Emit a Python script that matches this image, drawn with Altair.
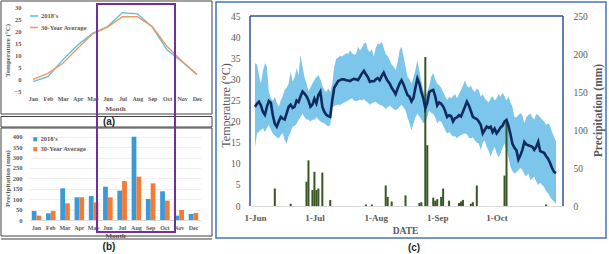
import altair as alt
import pandas as pd

SERIF = "Liberation Serif"
SANS = "Liberation Sans"
GREY = "#595959"

# ---------------- panel (a) / (b) data ----------------
months = ["Jan", "Feb", "Mar", "Apr", "May", "Jun", "Jul", "Aug", "Sep", "Oct", "Nov", "Dec"]
series = ["2018's", "30-Year Average"]
temp_2018 = [-0.8, 1.2, 8.2, 14.4, 19.2, 22.0, 27.8, 27.3, 21.8, 12.3, 7.4, 2.0]
temp_30yr = [0.1, 2.6, 6.8, 13.0, 19.0, 21.8, 26.1, 26.1, 22.0, 13.7, 7.6, 2.2]
prec_2018 = [43, 32, 152, 109, 115, 160, 141, 400, 101, 138, 21, 29]
prec_30yr = [21, 43, 80, 109, 85, 109, 187, 208, 176, 93, 48, 34]
temp_ticks_a = [-5, 0, 5, 10, 15, 20, 25, 30]
prec_ticks_b = [0, 50, 100, 150, 200, 250, 300, 350, 400]

# ---------------- panel (c) data ----------------
start_date = "2018-06-01"
tmean = [23.5, 24.2, 24.7, 23.8, 22.3, 21.6, 23.5, 24.9, 24.5, 21.5,
         19.5, 18.8, 20.0, 21.1, 20.7, 20.5, 22.0, 23.5, 24.0, 23.2,
         23.5, 25.0, 24.6, 26.0, 27.1, 26.6, 26.0, 25.0, 23.5, 24.0,
         25.4, 24.3, 26.3, 27.1, 23.5, 22.3, 21.6, 21.3, 21.1, 25.0,
         28.0, 28.8, 29.6, 29.8, 30.0, 30.0, 29.8, 29.7, 29.6, 29.9,
         30.1, 30.0, 29.8, 30.6, 31.4, 32.0, 31.2, 30.5, 29.4, 29.6,
         29.5, 30.0, 30.3, 29.8, 30.8, 31.6, 30.5, 29.6, 29.0, 28.0,
         27.3, 26.5, 27.8, 29.0, 29.8, 28.8, 27.5, 26.3, 25.9, 24.8,
         25.6, 28.0, 30.2, 29.0, 27.0, 25.5, 23.1, 24.5, 27.0, 27.3,
         27.5, 26.0, 23.8, 24.5, 24.2, 23.6, 22.5, 21.1, 21.5, 21.3,
         20.0, 20.8, 21.0, 21.5, 21.2, 22.3, 23.5, 24.7, 23.8, 22.5,
         21.1, 20.8, 20.6, 20.0, 19.2, 17.2, 18.0, 18.8, 18.5, 18.8,
         17.5, 18.3, 17.2, 17.8, 18.6, 19.0, 20.0, 20.4, 19.0, 17.0,
         14.7, 13.8, 13.2, 11.0, 12.0, 13.3, 15.2, 14.6, 14.4, 14.2,
         14.0, 13.3, 14.0, 15.2, 13.0, 12.8, 12.6, 11.8, 11.2, 10.2,
         9.0, 8.1, 7.8]
tmax = [33.8, 33.5, 31.0, 29.0, 32.0, 33.8, 33.0, 27.0, 25.5, 24.9,
        25.8, 24.5, 23.5, 25.0, 26.0, 27.5, 28.0, 29.0, 31.8, 29.5,
        30.5, 32.6, 31.0, 35.8, 33.0, 30.5, 29.0, 27.1, 28.0, 29.0,
        29.9, 30.5, 31.0, 30.0, 28.5, 27.5, 27.0, 27.8, 27.0, 29.0,
        33.0, 34.9, 35.2, 35.6, 35.4, 35.8, 36.2, 36.0, 36.9, 36.2,
        35.8, 36.0, 37.7, 36.8, 37.5, 38.5, 38.7, 37.0, 36.5, 37.2,
        35.4, 37.5, 38.5, 38.3, 38.9, 37.5, 36.0, 35.5, 34.6, 33.5,
        33.0, 32.2, 34.0, 36.9, 37.7, 35.5, 33.0, 30.6, 30.0, 29.0,
        30.5, 32.2, 34.6, 32.0, 29.5, 27.5, 25.9, 27.0, 28.5, 30.6,
        31.5, 30.0, 29.0, 28.6, 28.0, 27.0, 26.0, 25.1, 25.8, 25.5,
        26.0, 26.5, 25.5, 26.5, 27.5, 28.5, 29.8, 28.5, 28.0, 28.5,
        27.5, 27.0, 27.8, 27.5, 25.9, 26.5, 25.5, 25.0, 24.5, 25.5,
        26.0, 25.0, 25.5, 26.5, 25.9, 26.8, 26.0, 25.0, 26.0, 24.5,
        23.5, 21.1, 21.0, 21.5, 22.0, 21.5, 19.6, 21.0, 21.5, 21.9,
        21.0, 20.5, 21.8, 21.5, 21.0, 20.5, 20.0, 19.2, 19.6, 19.0,
        17.5, 16.4, 15.2]
tmin = [14.0, 17.2, 17.6, 18.0, 18.4, 17.5, 18.5, 19.2, 18.0, 17.2,
        16.7, 16.3, 16.0, 16.8, 17.3, 15.6, 14.8, 16.5, 17.5, 18.8,
        19.0, 19.5, 20.4, 21.0, 21.9, 21.0, 20.5, 20.4, 20.0, 20.4,
        20.4, 21.0, 20.5, 20.0, 19.8, 19.6, 19.2, 18.8, 19.2, 23.5,
        23.6, 23.9, 24.0, 23.9, 24.2, 24.5, 24.7, 25.0, 25.3, 25.5,
        25.0, 24.8, 25.0, 25.2, 25.0, 25.3, 24.8, 24.5, 24.0, 24.3,
        24.6, 24.7, 24.2, 24.0, 23.8, 23.5, 23.0, 23.3, 23.8, 23.4,
        23.0, 22.7, 23.0, 23.5, 24.0, 23.3, 22.7, 21.0, 19.6, 18.0,
        19.5, 21.0, 21.9, 21.2, 20.5, 19.6, 19.8, 21.0, 22.7, 22.0,
        21.8, 21.0, 19.6, 20.2, 20.0, 19.0, 18.0, 17.2, 17.5, 17.0,
        16.4, 16.6, 16.0, 16.5, 16.8, 17.0, 17.2, 17.0, 16.2, 16.0,
        16.3, 15.5, 15.0, 14.8, 13.2, 15.0, 15.5, 14.0, 13.0, 11.7,
        13.0, 14.0, 12.5, 11.5, 12.5, 13.8, 14.8, 13.5, 11.5, 9.3,
        8.3, 7.7, 8.0, 8.5, 9.0, 8.5, 7.5, 7.0, 7.8, 6.1,
        6.5, 7.0, 5.8, 5.0, 5.5, 5.0, 4.5, 3.5, 3.0, 2.2,
        1.5, 1.0, 0.6]
precip_dates = ["2018-06-11", "2018-06-19", "2018-06-27", "2018-06-28", "2018-06-30",
                "2018-07-01", "2018-07-02", "2018-07-03", "2018-07-05", "2018-07-09",
                "2018-07-27", "2018-07-30", "2018-08-06", "2018-08-07", "2018-08-09",
                "2018-08-16", "2018-08-23", "2018-08-24", "2018-08-26", "2018-08-27",
                "2018-08-30", "2018-08-31", "2018-09-01", "2018-09-03", "2018-09-04",
                "2018-09-07", "2018-09-12", "2018-09-13", "2018-09-14", "2018-09-18",
                "2018-09-19", "2018-09-21", "2018-10-05", "2018-10-06", "2018-10-26"]
precip_mm = [23, 3, 32, 60, 21, 45, 21, 23, 44, 8,
             2, 2, 27, 12, 6, 14, 4, 5, 196, 80,
             11, 7, 9, 12, 23, 7, 4, 6, 8, 3,
             5, 27, 40, 113, 2]
tick_dates = ["2018-06-01", "2018-07-01", "2018-08-01", "2018-09-01", "2018-10-01"]
tick_labels = ["1-Jun", "1-Jul", "1-Aug", "1-Sep", "1-Oct"]
temp_ticks_c = [0, 5, 10, 15, 20, 25, 30, 35, 40, 45]
prec_ticks_c = [0, 50, 100, 150, 200, 250]

# ---------------- tables ----------------
t0 = pd.Timestamp(start_date)
dfa = pd.DataFrame({"month": months * 2,
                    "series": [series[0]] * 12 + [series[1]] * 12,
                    "temp": temp_2018 + temp_30yr})
dfb = pd.DataFrame({"month": months * 2,
                    "series": [series[0]] * 12 + [series[1]] * 12,
                    "prec": prec_2018 + prec_30yr})
dates = pd.date_range(start_date, periods=len(tmean), freq="D")
dfc = pd.DataFrame({"day": [(d - t0).days for d in dates],
                    "tmean": tmean, "tmax": tmax, "tmin": tmin})
dfp = pd.DataFrame({"day": [(pd.Timestamp(d) - t0).days for d in precip_dates],
                    "mm": precip_mm})
tick_days = [(pd.Timestamp(d) - t0).days for d in tick_dates]
label_expr = " : ".join(f"datum.value == {v} ? '{l}'" for v, l in zip(tick_days, tick_labels)) + " : ''"

lab = dict(labelFont=SERIF, labelColor=GREY, titleFont=SERIF, titleColor=GREY)

# ---------------- panel (a) ----------------
chart_a = alt.Chart(dfa).mark_line(strokeWidth=1.4).encode(
    x=alt.X("month:N", sort=months,
            scale=alt.Scale(type="point", domain=months, range=[33, 197], padding=0),
            axis=alt.Axis(orient="bottom", offset=-161, domain=False, ticks=False, grid=False,
                          labelAngle=0, labelPadding=2, labelFontSize=6, labelFontWeight="bold",
                          labelOverlap=False, title="Month", titleFontSize=7, titleFontWeight="bold",
                          titleX=115, titleY=15, titleBaseline="middle", **lab)),
    y=alt.Y("temp:Q",
            scale=alt.Scale(domain=[-5, 30], range=[91.7, 7.3], nice=False, zero=False),
            axis=alt.Axis(orient="left", offset=-25, values=temp_ticks_a, domain=False, ticks=False,
                          grid=False, labelPadding=4, labelFontSize=6.5, labelFontWeight="bold",
                          title="Temperature (°C)", titleFontSize=7, titleFontWeight="bold",
                          titleX=-18, titleY=50, titleAngle=270, titleBaseline="middle", **lab)),
    color=alt.Color("series:N",
                    scale=alt.Scale(domain=series, range=["#5BBFE5", "#F4995C"]),
                    legend=alt.Legend(orient="none", legendX=29, legendY=11, title=None,
                                      symbolType="stroke", symbolSize=64, symbolStrokeWidth=1.5,
                                      labelFont=SERIF, labelFontSize=6.5, labelFontWeight="bold",
                                      labelColor=GREY, labelOffset=2, rowPadding=2.5)),
)

# ---------------- panel (b) ----------------
chart_b = alt.Chart(dfb).mark_bar().encode(
    x=alt.X("month:N", sort=months,
            scale=alt.Scale(type="band", domain=months, range=[29.4, 200.6],
                            paddingInner=0.33, paddingOuter=0.165),
            axis=alt.Axis(orient="bottom", offset=-34, domain=True, domainColor="#D9D9D9",
                          ticks=False, grid=False, labelAngle=0, labelPadding=4, labelFontSize=6,
                          labelFontWeight="bold", labelOverlap=False, title="Month",
                          titleFontSize=7, titleFontWeight="bold", titleX=115, titleY=15,
                          titleBaseline="middle", **lab)),
    xOffset=alt.XOffset("series:N", scale=alt.Scale(domain=series)),
    y=alt.Y("prec:Q",
            scale=alt.Scale(domain=[0, 400], range=[220, 136.7], nice=False, zero=True),
            axis=alt.Axis(orient="left", offset=-27, values=prec_ticks_b, domain=False, ticks=False,
                          grid=True, gridColor="#EFEFEF", labelPadding=5, labelFontSize=6.5,
                          labelFontWeight="bold", title="Precipitation (mm)", titleFontSize=7,
                          titleFontWeight="bold", titleX=-20, titleY=178, titleAngle=270,
                          titleBaseline="middle", **lab)),
    color=alt.Color("series:N",
                    scale=alt.Scale(domain=series, range=["#3A9AD9", "#F47B36"]),
                    legend=alt.Legend(orient="none", legendX=32, legendY=136, title=None,
                                      symbolType="square", symbolSize=16,
                                      labelFont=SERIF, labelFontSize=6.5, labelFontWeight="bold",
                                      labelColor=GREY, labelOffset=2, rowPadding=3)),
)

# ---------------- panel (c) ----------------
xc = alt.X("day:Q", scale=alt.Scale(domain=[0, 153], range=[250, 563], nice=False, zero=False),
           axis=alt.Axis(orient="bottom", offset=-48, values=tick_days, labelExpr=label_expr,
                         labelFlush=False, labelOverlap=False, domain=True, domainColor="#D9D9D9",
                         ticks=False, grid=False, labelPadding=7, labelFontSize=9,
                         labelFontWeight="bold", title="DATE", titleFontSize=9.5,
                         titleFontWeight="bold", titleX=405, titleY=24, titleBaseline="middle",
                         **lab))
tscale = alt.Scale(domain=[0, 45], range=[206, 16], nice=False, zero=True)

band = alt.Chart(dfc).mark_area(color="#7DC6EB", opacity=1).encode(
    x=xc,
    y=alt.Y("tmax:Q", scale=tscale,
            axis=alt.Axis(orient="left", offset=-250, values=temp_ticks_c, domain=False,
                          ticks=False, grid=False, labelPadding=10, labelFontSize=9.5,
                          title="Temperature (°C)", titleFontSize=12, titleFontWeight="normal",
                          titleX=-25, titleY=105, titleAngle=270, titleBaseline="middle", **lab)),
    y2="tmin:Q",
)
mean_line = alt.Chart(dfc).mark_line(color="#0E2A5E", strokeWidth=2.6).encode(
    x=xc,
    y=alt.Y("tmean:Q", scale=tscale, axis=None),
)
rain = alt.Chart(dfp).mark_bar(color="#375623", size=2).encode(
    x=xc,
    y=alt.Y("mm:Q", scale=alt.Scale(domain=[0, 250], range=[206, 16], nice=False, zero=True),
            axis=alt.Axis(orient="right", offset=-46, values=prec_ticks_c, domain=False,
                          ticks=False, grid=False, labelPadding=10, labelFontSize=9.5,
                          title="Precipitation (mm)", titleFontSize=11.5, titleFontWeight="bold",
                          titleX=35, titleY=110, titleAngle=270, titleBaseline="middle", **lab)),
)
chart_c = alt.layer(band, rain, mean_line).resolve_scale(y="independent")

# ---------------- decorations (frames, labels) ----------------
one = pd.DataFrame({"k": [0]})


def frame(x1, y1, x2, y2, color, sw):
    return alt.Chart(one).mark_rect(fillOpacity=0, stroke=color, strokeWidth=sw).encode(
        x=alt.value(x1), x2=alt.value(x2), y=alt.value(y1), y2=alt.value(y2))


def rule(x1, y1, x2, y2, color, sw):
    return alt.Chart(one).mark_rule(color=color, strokeWidth=sw).encode(
        x=alt.value(x1), x2=alt.value(x2), y=alt.value(y1), y2=alt.value(y2))


def label(txt, x, y):
    return alt.Chart(one).mark_text(text=txt, font=SANS, fontSize=10, fontWeight="bold",
                                    color="#262626").encode(x=alt.value(x), y=alt.value(y))


decor = [
    frame(1, 1, 212, 114, "#404040", 1),
    frame(1, 116.5, 212, 127, "#404040", 1),
    frame(1, 128, 212, 236, "#404040", 1),
    rule(1, 239, 212, 239, "#404040", 1),
    frame(216, 2, 606, 238, "#4472C4", 1.5),
    rule(250, 16, 250, 206, "#2F5597", 1.5),
    rule(250, 16, 563, 16, "#2F5597", 1.5),
    rule(563, 16, 563, 206, "#2F5597", 1.5),
    frame(97, 4, 175, 232, "#7030A0", 2),
    label("(a)", 109, 122),
    label("(b)", 109, 247),
    label("(c)", 414, 248),
]

chart = alt.layer(chart_a, chart_b, chart_c, *decor).resolve_scale(
    x="independent", y="independent", color="independent"
).properties(
    width=609, height=254, padding=0, autosize=alt.AutoSizeParams(type="none"),
    background="white"
).configure_view(stroke=None)

chart.save("out.html", embed_options={"renderer": "svg", "actions": False})
